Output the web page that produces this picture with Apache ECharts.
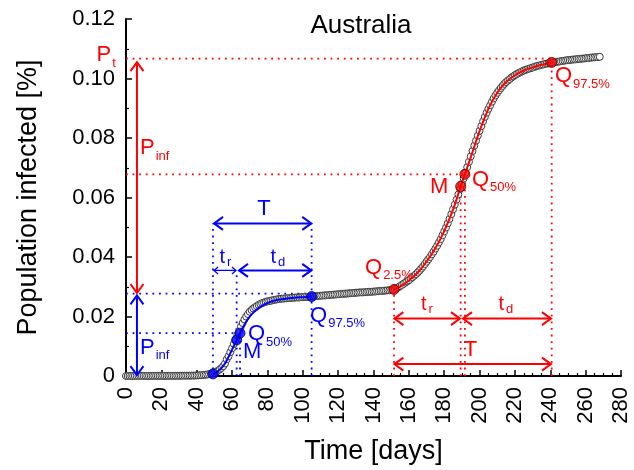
<!DOCTYPE html>
<html><head><meta charset="utf-8">
<script src="https://cdn.jsdelivr.net/npm/echarts@6/dist/echarts.min.js"></script>
<style>html,body{margin:0;padding:0;background:#fff}#c{width:634px;height:470px}</style>
</head><body><div id="c"></div>
<script>
// ---- data: population infected [%] per day (index = day) ----
const dailyValues = [
 0.00002,0.00002,0.00002,0.00002,0.00002,0.00003,0.00003,0.00004,0.00004,0.00004, // 0-9
 0.00004,0.00005,0.00005,0.00005,0.00005,0.00005,0.00005,0.00006,0.00006,0.00006, // 10-19
 0.00006,0.00006,0.00006,0.00006,0.00006,0.00006,0.00006,0.00006,0.00007,0.00007, // 20-29
 0.00008,0.00009,0.00010,0.00010,0.00011,0.00011,0.00012,0.00013,0.00014,0.00016, // 30-39
 0.00019,0.00022,0.00026,0.00030,0.00036,0.00042,0.00050,0.00060,0.00072,0.00090, // 40-49
 0.0011,0.0014,0.0018,0.0022,0.0027,0.0033,0.0042,0.0056,0.0066,0.0080, // 50-59
 0.0093,0.0108,0.0122,0.0138,0.0152,0.0166,0.0178,0.0190,0.0200,0.0208, // 60-69
 0.0216,0.0222,0.0227,0.0231,0.0235,0.0239,0.0242,0.0245,0.0247,0.0249, // 70-79
 0.0251,0.0252,0.0253,0.0255,0.0256,0.0257,0.0258,0.0259,0.0260,0.0260, // 80-89
 0.0261,0.0261,0.0262,0.0262,0.0263,0.0263,0.0264,0.0264,0.0264,0.0265, // 90-99
 0.0265,0.0266,0.0266,0.0266,0.0267,0.0267,0.0268,0.0268,0.0269,0.0269, // 100-109
 0.0270,0.0270,0.0271,0.0271,0.0272,0.0272,0.0273,0.0273,0.0274,0.0274, // 110-119
 0.0275,0.0275,0.0276,0.0276,0.0277,0.0277,0.0278,0.0278,0.0279,0.0279, // 120-129
 0.0280,0.0280,0.0281,0.0281,0.0281,0.0282,0.0282,0.0283,0.0283,0.0283, // 130-139
 0.0284,0.0284,0.0285,0.0285,0.0286,0.0286,0.0287,0.0287,0.0288,0.0288, // 140-149
 0.0289,0.0290,0.0292,0.0295,0.0298,0.0302,0.0306,0.0310,0.0314,0.0318, // 150-159
 0.0322,0.0327,0.0332,0.0337,0.0342,0.0348,0.0354,0.0361,0.0368,0.0376, // 160-169
 0.0384,0.0392,0.0400,0.0409,0.0418,0.0428,0.0438,0.0449,0.0460,0.0473, // 170-179
 0.0486,0.0499,0.0513,0.0528,0.0544,0.0560,0.0576,0.0593,0.0610,0.0628, // 180-189
 0.0646,0.0664,0.0683,0.0702,0.0720,0.0738,0.0756,0.0774,0.0791,0.0808, // 190-199
 0.0824,0.0840,0.0856,0.0871,0.0885,0.0898,0.0910,0.0922,0.0933,0.0943, // 200-209
 0.0952,0.0960,0.0968,0.0975,0.0982,0.0988,0.0993,0.0998,0.1003,0.1007, // 210-219
 0.1011,0.1015,0.1018,0.1021,0.1024,0.1027,0.1029,0.1031,0.1033,0.1035, // 220-229
 0.1037,0.1039,0.1041,0.1043,0.1044,0.1046,0.1047,0.1049,0.1050,0.1051, // 230-239
 0.1052,0.1053,0.1054,0.1055,0.1056,0.1057,0.1058,0.1059,0.1060,0.1061, // 240-249
 0.1062,0.1062,0.1063,0.1064,0.1064,0.1065,0.1066,0.1066,0.1067,0.1067, // 250-259
 0.1068,0.1069,0.1069,0.1070,0.1071,0.1071,0.1072,0.1072,0.1073          // 260-268
];

// first-wave fit (blue) and second-wave fit (red): [day, value]
const fitBlueDays   = [49.2,50,52,54,56,58,60,62,62.6,64,64.5,66,68,70,72,75,78,82,86,90,95,100,105];
const fitBlueValues = [0.0007,0.0009,0.0016,0.0027,0.0042,0.0064,0.0089,0.0114,0.0121,0.0138,0.0144,0.0162,0.0183,0.0200,0.0213,0.0228,0.0240,0.0250,0.0256,0.0260,0.0263,0.0265,0.0267];
const fitRedDays    = [151.6,155,160,165,170,175,180,185,189.3,191.7,195,200,205,210,215,220,225,230,235,240.8];
const fitRedValues  = [0.0291,0.0301,0.0321,0.0348,0.0384,0.0429,0.0487,0.0559,0.0637,0.0678,0.0735,0.0823,0.0898,0.0952,0.0988,0.1011,0.1027,0.1037,0.1046,0.1054];

// characteristic points Q2.5%, M, Q50%, Q97.5%
const keyBlue = [[49.2,0.0007],[62.6,0.0121],[64.5,0.0144],[105,0.0267]];
const keyRed  = [[151.6,0.0291],[189.3,0.0637],[191.7,0.0678],[240.8,0.1054]];
const Pt = 0.1067, PinfBlueTop = 0.0277, Q50Red = 0.0678, Q50Blue = 0.0144;

// dotted guide lines [x1,y1,x2,y2]
const dotsRed = [[0,Pt,240.8,Pt],[0,Q50Red,191.7,Q50Red],[151.6,0,151.6,0.0291],[189.3,0,189.3,0.0637],[191.7,0,191.7,0.0678],[240.8,0,240.8,0.1054]];
const dotsBlue = [[0,PinfBlueTop,105,PinfBlueTop],[0,Q50Blue,64.5,Q50Blue],[49.2,0,49.2,0.0513],[105,0,105,0.0513],[62.6,0,62.6,0.0355],[64.5,0,64.5,0.0144]];

// double arrows [x1,y1,x2,y2,small]
const arrowsRed = [[6.2,0.0279,6.2,0.1055,0],[151.8,0.0193,188.9,0.0193,0],[190.6,0.0193,240.4,0.0193,0],[151.8,0.0040,240.4,0.0040,0]];
const arrowsBlue = [[6.2,0.0003,6.2,0.0271,0],[49.8,0.0513,104.8,0.0513,0],[49.8,0.0355,62.2,0.0355,1],[63.9,0.0355,104.8,0.0355,0]];

// text labels [x, y, main, subscript]
const labelsRed = [[-16.7,0.1078,'P','t'],[7.9,0.0766,'P','inf'],[135.2,0.0364,'Q','2.5%'],[171.9,0.0635,'M',''],[195.7,0.0660,'Q','50%'],[242.6,0.1007,'Q','97.5%'],[166.9,0.0240,'t','r'],[210.7,0.0240,'t','d'],[191.0,0.0089,'T','']];
const labelsBlue = [[7.9,0.0096,'P','inf'],[69.0,0.0141,'Q','50%'],[66.2,0.0082,'M',''],[104.1,0.0203,'Q','97.5%'],[52.9,0.0397,'t','r'],[81.7,0.0397,'t','d'],[74.3,0.0562,'T','']];

const xTicks = {min:0, max:280, interval:20};
const yTicks = {min:0, max:0.12, interval:0.02};

// ---- rendering ----
const FF = '"Liberation Sans", Arial, sans-serif';
const RED = '#ff0000', BLUE = '#0000ff';
const mctx = document.createElement('canvas').getContext('2d');
function tw(t, size){ mctx.font = size + 'px ' + FF; return mctx.measureText(t).width; }

function dottedRender(color){
  return function(params, api){
    const a = api.coord([api.value(0), api.value(1)]);
    const b = api.coord([api.value(2), api.value(3)]);
    return {type:'line', shape:{x1:a[0],y1:a[1],x2:b[0],y2:b[1]},
      style:{stroke:color, lineWidth:1.8, lineDash:[1.8,4.8], fill:null}};
  };
}
function arrowRender(color){
  return function(params, api){
    const a = api.coord([api.value(0), api.value(1)]);
    const b = api.coord([api.value(2), api.value(3)]);
    const small = api.value(4) === 1;
    const L = small ? 4 : 9, W = small ? 3.5 : 6.5, lw = small ? 1.3 : 2;
    let dx = b[0]-a[0], dy = b[1]-a[1];
    const len = Math.hypot(dx, dy); dx/=len; dy/=len;
    const nx = -dy, ny = dx;
    function head(tip, sx, sy){
      return {type:'polyline', shape:{points:[[tip[0]-sx*L+nx*W, tip[1]-sy*L+ny*W],[tip[0],tip[1]],[tip[0]-sx*L-nx*W, tip[1]-sy*L-ny*W]]},
        style:{stroke:color, lineWidth:lw, fill:null}};
    }
    return {type:'group', children:[
      {type:'line', shape:{x1:a[0],y1:a[1],x2:b[0],y2:b[1]}, style:{stroke:color, lineWidth:lw}},
      head(b, dx, dy), head(a, -dx, -dy)
    ]};
  };
}
function labelRender(list, color){
  return function(params, api){
    const Lb = list[params.dataIndex];
    const p = api.coord([api.value(0), api.value(1)]);
    const isT = Lb[2] === 't';
    const ms = isT ? 20 : 22;
    const ch = [{type:'text', x:p[0], y:p[1], style:{text:Lb[2], fill:color, font: ms+'px '+FF, align:'left', verticalAlign:'middle', textAlign:'left', textVerticalAlign:'middle'}}];
    if (Lb[3]) ch.push({type:'text', x:p[0]+tw(Lb[2], ms)+(isT?2:1), y:p[1]+(isT?5:8),
      style:{text:Lb[3], fill:color, font:'13px '+FF, align:'left', verticalAlign:'middle', textAlign:'left', textVerticalAlign:'middle'}});
    return {type:'group', children:ch};
  };
}
const xy = (xs, ys) => xs.map((x,i)=>[x, ys[i]]);
const quad = l => l.map(r => r.slice());

const chart = echarts.init(document.getElementById('c'), null, {renderer:'canvas'});
chart.setOption({
  animation:false,
  backgroundColor:'#fff',
  grid:{left:126, right:13, top:19, bottom:93, containLabel:false},
  graphic:[{type:'text', x:361, y:26, style:{text:'Australia', font:'26px '+FF, fill:'#000', align:'center', verticalAlign:'middle', textAlign:'center', textVerticalAlign:'middle'}}],
  xAxis:{type:'value', min:xTicks.min, max:xTicks.max, interval:xTicks.interval,
    name:'Time [days]', nameLocation:'middle', nameGap:62,
    nameTextStyle:{fontSize:27, color:'#000', fontFamily:FF},
    axisLine:{show:true, lineStyle:{color:'#000', width:2}},
    axisTick:{show:true, inside:true, length:6, lineStyle:{color:'#000', width:1.5}},
    minorTick:{show:true, splitNumber:4, length:3, lineStyle:{color:'#000', width:1.2}},
    splitLine:{show:false},
    axisLabel:{rotate:90, fontSize:22, color:'#000', fontFamily:FF, margin:11}},
  yAxis:{type:'value', min:yTicks.min, max:yTicks.max, interval:yTicks.interval,
    name:'Population infected [%]', nameLocation:'middle', nameGap:84, nameRotate:90,
    nameTextStyle:{fontSize:27, color:'#000', fontFamily:FF},
    axisLine:{show:true, lineStyle:{color:'#000', width:2}},
    axisTick:{show:true, inside:true, length:6, lineStyle:{color:'#000', width:1.5}},
    minorTick:{show:true, splitNumber:2, length:3, lineStyle:{color:'#000', width:1.2}},
    splitLine:{show:false},
    axisLabel:{fontSize:22, color:'#000', fontFamily:FF, margin:11,
      formatter: v => v === 0 ? '0' : v.toFixed(2)}},
  series:[
    {type:'custom', name:'dotsBlue', renderItem:dottedRender(BLUE), data:quad(dotsBlue), clip:false, z:1, silent:true},
    {type:'custom', name:'dotsRed', renderItem:dottedRender(RED), data:quad(dotsRed), clip:false, z:1, silent:true},
    {type:'scatter', name:'data', data:dailyValues.map((v,i)=>[i,v]), symbol:'circle', symbolSize:7,
      itemStyle:{color:'#fff', borderColor:'#3a3a3a', borderWidth:1, opacity:1}, z:2, silent:true},
    {type:'line', name:'fitBlue', data:xy(fitBlueDays, fitBlueValues), smooth:0.3, showSymbol:false,
      lineStyle:{color:BLUE, width:2}, z:3, silent:true},
    {type:'line', name:'fitRed', data:xy(fitRedDays, fitRedValues), smooth:0.3, showSymbol:false,
      lineStyle:{color:RED, width:2}, z:3, silent:true},
    {type:'scatter', name:'keyBlue', data:keyBlue, symbolSize:10, itemStyle:{color:BLUE, borderColor:'#000066', borderWidth:1}, z:4, silent:true},
    {type:'scatter', name:'keyRed', data:keyRed, symbolSize:10, itemStyle:{color:RED, borderColor:'#550000', borderWidth:1}, z:4, silent:true},
    {type:'custom', name:'arrowsRed', renderItem:arrowRender(RED), data:quad(arrowsRed), clip:false, z:5, silent:true},
    {type:'custom', name:'arrowsBlue', renderItem:arrowRender(BLUE), data:quad(arrowsBlue), clip:false, z:5, silent:true},
    {type:'custom', name:'labelsRed', renderItem:labelRender(labelsRed, RED), data:labelsRed.map(l=>[l[0],l[1]]), clip:false, z:6, silent:true},
    {type:'custom', name:'labelsBlue', renderItem:labelRender(labelsBlue, BLUE), data:labelsBlue.map(l=>[l[0],l[1]]), clip:false, z:6, silent:true}
  ]
});
</script></body></html>
